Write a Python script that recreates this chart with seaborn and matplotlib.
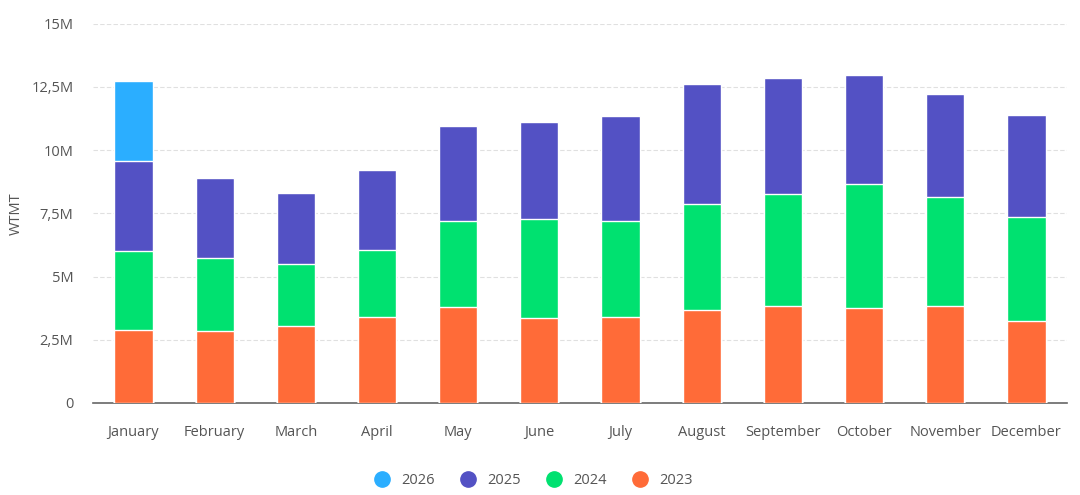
import numpy as np
import pandas as pd
import seaborn as sns
import matplotlib.pyplot as plt
from matplotlib.lines import Line2D

months = ["January", "February", "March", "April", "May", "June", "July",
          "August", "September", "October", "November", "December"]
# values in millions, per year segment
y2023 = [2.90, 2.85, 3.06, 3.40, 3.78, 3.35, 3.40, 3.69, 3.82, 3.74, 3.82, 3.24]
y2024 = [3.13, 2.89, 2.42, 2.64, 3.40, 3.94, 3.78, 4.19, 4.43, 4.91, 4.33, 4.10]
y2025 = [3.53, 3.14, 2.84, 3.17, 3.78, 3.81, 4.18, 4.73, 4.59, 4.31, 4.06, 4.06]
y2026 = [3.18, 0, 0, 0, 0, 0, 0, 0, 0, 0, 0, 0]

years = ["2026", "2025", "2024", "2023"]
colors = {"2026": "#2BAEFF", "2025": "#5351C4", "2024": "#00E170", "2023": "#FF6B38"}
ytick_vals = [0, 2.5, 5, 7.5, 10, 12.5, 15]
ytick_labels = ["0", "2,5M", "5M", "7,5M", "10M", "12,5M", "15M"]

plt.rcParams['font.family'] = ['Open Sans', 'DejaVu Sans']

df = pd.DataFrame({"month": months, "2023": y2023, "2024": y2024,
                   "2025": y2025, "2026": y2026})
# cumulative tops for stacking (draw tallest first)
df["c2023"] = df["2023"]
df["c2024"] = df["c2023"] + df["2024"]
df["c2025"] = df["c2024"] + df["2025"]
df["c2026"] = df["c2025"] + df["2026"]

fig = plt.figure(figsize=(10.8, 4.95), dpi=100)
ax = fig.add_axes([0.086, 0.186, 0.902, 0.766])

for yr in years:
    sns.barplot(data=df, x="month", y="c" + yr, color=colors[yr], width=0.47,
                edgecolor="white", linewidth=1, saturation=1, ax=ax, zorder=3)

ax.set_ylim(0, 15)
ax.set_xlim(-0.5, 11.5)
ax.set_yticks(ytick_vals)
ax.set_yticklabels(ytick_labels)
ax.yaxis.grid(True, linestyle=(0, (4, 2)), color="#e0e0e0", linewidth=0.8, zorder=0)
ax.set_axisbelow(True)
for s in ["top", "right", "left"]:
    ax.spines[s].set_visible(False)
ax.spines["bottom"].set_color("#666666")
ax.spines["bottom"].set_linewidth(1.2)
ax.tick_params(axis="both", length=0, labelsize=10.5, colors="#555555")
ax.tick_params(axis="x", pad=16)
ax.tick_params(axis="y", pad=14)
ax.set_xlabel("")
ax.set_ylabel("WTMT", fontsize=10.5, color="#555555")
ax.yaxis.set_label_coords(-0.071, 0.5)

handles = [Line2D([0], [0], marker="o", linestyle="", markersize=11,
                  markerfacecolor=colors[yr], markeredgecolor=colors[yr]) for yr in years]
fig.legend(handles, years, loc="lower center", ncol=4, frameon=False,
           bbox_to_anchor=(0.491, -0.012), fontsize=10.5, labelcolor="#555555",
           handletextpad=0.3, columnspacing=1.3)

fig.savefig("out.png", dpi=100)
